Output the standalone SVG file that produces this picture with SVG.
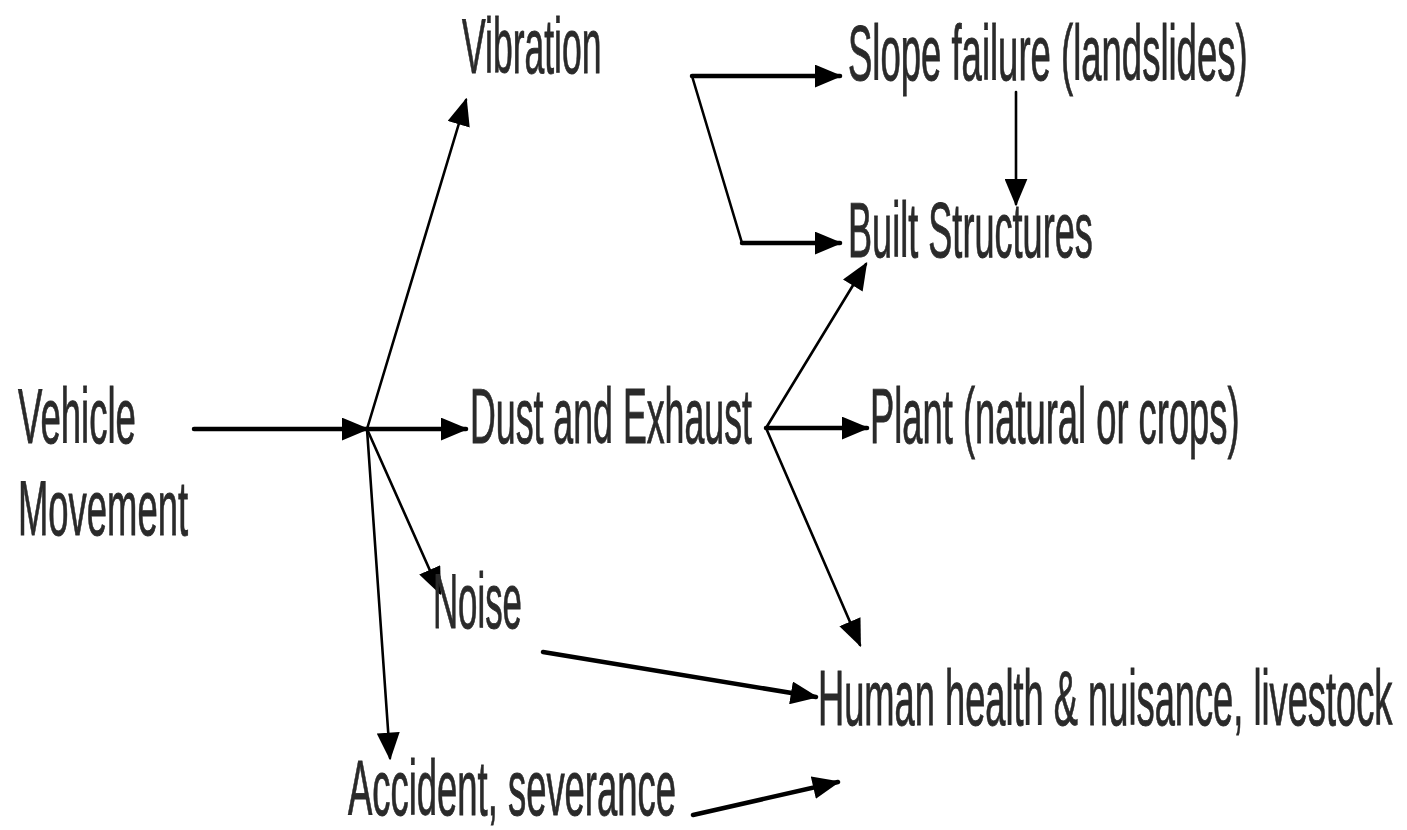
<svg xmlns="http://www.w3.org/2000/svg" width="1407" height="830" viewBox="0 0 1407 830">
<defs>
<marker id="ah" viewBox="0 0 12 10" refX="11" refY="5" markerWidth="28" markerHeight="23" markerUnits="userSpaceOnUse" orient="auto">
<path d="M0,0 L12,5 L0,10 Z" fill="#000"/>
</marker>
</defs>
<style>
text{font-family:"Liberation Sans",Arial,sans-serif;font-size:78px;fill:#2a2a2a;stroke:#2a2a2a;stroke-width:0.9;}
.c{fill:none;stroke:#000;stroke-linecap:round;stroke-linejoin:miter;}
.t{stroke-width:4.5;}
.n{stroke-width:2.6;}
</style>
<rect width="1407" height="830" fill="#fff"/>
<g id="connectors">
<line class="c t" x1="194" y1="429" x2="367" y2="429" marker-end="url(#ah)"/>
<line class="c n" x1="367" y1="429" x2="466" y2="100" marker-end="url(#ah)"/>
<line class="c t" x1="367" y1="429" x2="466" y2="429" marker-end="url(#ah)"/>
<line class="c n" x1="367" y1="429" x2="440" y2="593" marker-end="url(#ah)"/>
<line class="c n" x1="367" y1="429" x2="390" y2="758" marker-end="url(#ah)"/>
<line class="c t" x1="692" y1="76" x2="840" y2="76" marker-end="url(#ah)"/>
<line class="c n" x1="692" y1="76" x2="742" y2="243"/>
<line class="c t" x1="742" y1="243" x2="840" y2="243" marker-end="url(#ah)"/>
<line class="c n" x1="1016" y1="92" x2="1016" y2="204" marker-end="url(#ah)"/>
<line class="c n" x1="766" y1="428" x2="866" y2="264" marker-end="url(#ah)"/>
<line class="c t" x1="766" y1="428" x2="867" y2="428" marker-end="url(#ah)"/>
<line class="c n" x1="766" y1="428" x2="860" y2="645" marker-end="url(#ah)"/>
<line class="c t" x1="543" y1="652" x2="816" y2="697" marker-end="url(#ah)"/>
<line class="c t" x1="693" y1="815" x2="838" y2="782" marker-end="url(#ah)"/>
</g>
<g id="vehicle"><text transform="translate(18,443) scale(0.469,1)">Vehicle</text><text transform="translate(18,535) scale(0.467,1)">Movement</text></g>
<g id="vibration"><text transform="translate(462,73) scale(0.455,1)">Vibration</text></g>
<g id="slope"><text transform="translate(848,80) scale(0.468,1)">Slope failure (landslides)</text></g>
<g id="built"><text transform="translate(848,257) scale(0.463,1)">Built Structures</text></g>
<g id="dust"><text transform="translate(470,443) scale(0.458,1)">Dust and Exhaust</text></g>
<g id="plant"><text transform="translate(870,443) scale(0.466,1)">Plant (natural or crops)</text></g>
<g id="noise"><text transform="translate(433,628) scale(0.446,1)">Noise</text></g>
<g id="human"><text transform="translate(818,725) scale(0.465,1)">Human health &amp; nuisance, livestock</text></g>
<g id="accident"><text transform="translate(348,815) scale(0.467,1)">Accident, severance</text></g>
</svg>
